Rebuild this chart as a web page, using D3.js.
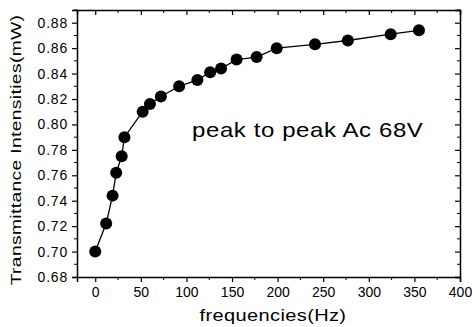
<!DOCTYPE html>
<html><head><meta charset="utf-8">
<script src="https://cdn.jsdelivr.net/npm/d3@7"></script>
<style>body{margin:0;background:#fff}text{font-family:"Liberation Sans",Arial,sans-serif;fill:#000}</style>
</head><body><svg id="c" width="472" height="327"></svg>
<script>
const freqs = [0, 12, 19, 23, 29, 32, 52, 60, 72, 92, 112, 126, 138, 155, 177, 199, 241, 277, 324, 355];
const values = [0.700, 0.722, 0.744, 0.762, 0.775, 0.790, 0.810, 0.816, 0.822, 0.830, 0.835, 0.841, 0.844, 0.851, 0.853, 0.860, 0.863, 0.866, 0.871, 0.874];
const xTicks = [0, 50, 100, 150, 200, 250, 300, 350, 400];
const yTicks = [0.68, 0.70, 0.72, 0.74, 0.76, 0.78, 0.80, 0.82, 0.84, 0.86, 0.88];
const annotation = "peak to peak Ac 68V";
const xTitle = "frequencies(Hz)";
const yTitle = "Transmittance Intensities(mW)";

const svg = d3.select("#c");
const L = 77, R = 460, T = 10, B = 277;
const x = d3.scaleLinear().domain([-20, 400]).range([L, R]);
const y = d3.scaleLinear().domain([0.68, 0.89]).range([B, T]);
const xMinor = d3.range(-25, 401, 25).filter(v => v >= -20 && xTicks.indexOf(v) < 0);
const yMinor = d3.range(0.69, 0.89, 0.02).map(v => +v.toFixed(2));

const fmt = d3.format(".2f");
// bottom axis
const gB = svg.append("g").attr("transform", `translate(0,${B})`)
  .call(d3.axisBottom(x).tickValues(xTicks).tickSize(5).tickPadding(5).tickFormat(d3.format("d")));
gB.append("g").selectAll("line").data(xMinor).join("line")
  .attr("x1", d => x(d)).attr("x2", d => x(d)).attr("y1", 0).attr("y2", 3).attr("stroke", "#000");
// left axis
const gL = svg.append("g").attr("transform", `translate(${L},0)`)
  .call(d3.axisLeft(y).tickValues(yTicks).tickSize(5).tickPadding(4).tickFormat(fmt));
gL.append("g").selectAll("line").data(yMinor).join("line")
  .attr("y1", d => y(d)).attr("y2", d => y(d)).attr("x1", 0).attr("x2", -3).attr("stroke", "#000");
// top axis (inward)
const gT = svg.append("g").attr("transform", `translate(0,${T})`)
  .call(d3.axisBottom(x).tickValues(xTicks).tickSize(5).tickFormat(""));
gT.append("g").selectAll("line").data(xMinor).join("line")
  .attr("x1", d => x(d)).attr("x2", d => x(d)).attr("y1", 0).attr("y2", 3).attr("stroke", "#000");
// right axis (inward)
const gR = svg.append("g").attr("transform", `translate(${R},0)`)
  .call(d3.axisRight(y).tickValues(yTicks).tickSize(-5).tickFormat(""));
gR.append("g").selectAll("line").data(yMinor).join("line")
  .attr("y1", d => y(d)).attr("y2", d => y(d)).attr("x1", 0).attr("x2", -3).attr("stroke", "#000");

[gB, gL, gT, gR].forEach(g => {
  g.select(".domain").attr("stroke-width", 1.5);
  g.selectAll(".tick line").attr("stroke-width", 1.2);
  g.selectAll("text").attr("font-size", 14).attr("font-family", "Liberation Sans, Arial, sans-serif").attr("fill", "#000");
});
gL.selectAll(".tick text").attr("letter-spacing", 0.8);

// line and markers
const pts = freqs.map((f, i) => [f, values[i]]);
svg.append("path").datum(pts)
  .attr("d", d3.line().x(d => x(d[0])).y(d => y(d[1])))
  .attr("fill", "none").attr("stroke", "#000").attr("stroke-width", 1.3);
svg.append("g").selectAll("circle").data(pts).join("circle")
  .attr("cx", d => x(d[0])).attr("cy", d => y(d[1])).attr("r", 6).attr("fill", "#000");

// annotation
svg.append("text").attr("transform", "translate(192,137) scale(1.2,1)").attr("font-size", 20)
  .attr("letter-spacing", 0.5).text(annotation);
// axis titles
svg.append("text").attr("transform", "translate(273,321) scale(1.25,1)").attr("text-anchor", "middle")
  .attr("font-size", 16).attr("letter-spacing", 0.3).text(xTitle);
svg.append("text").attr("transform", "translate(21,150) rotate(-90) scale(1.28,1)").attr("text-anchor", "middle")
  .attr("font-size", 15).attr("letter-spacing", 0.3).text(yTitle);
</script></body></html>
